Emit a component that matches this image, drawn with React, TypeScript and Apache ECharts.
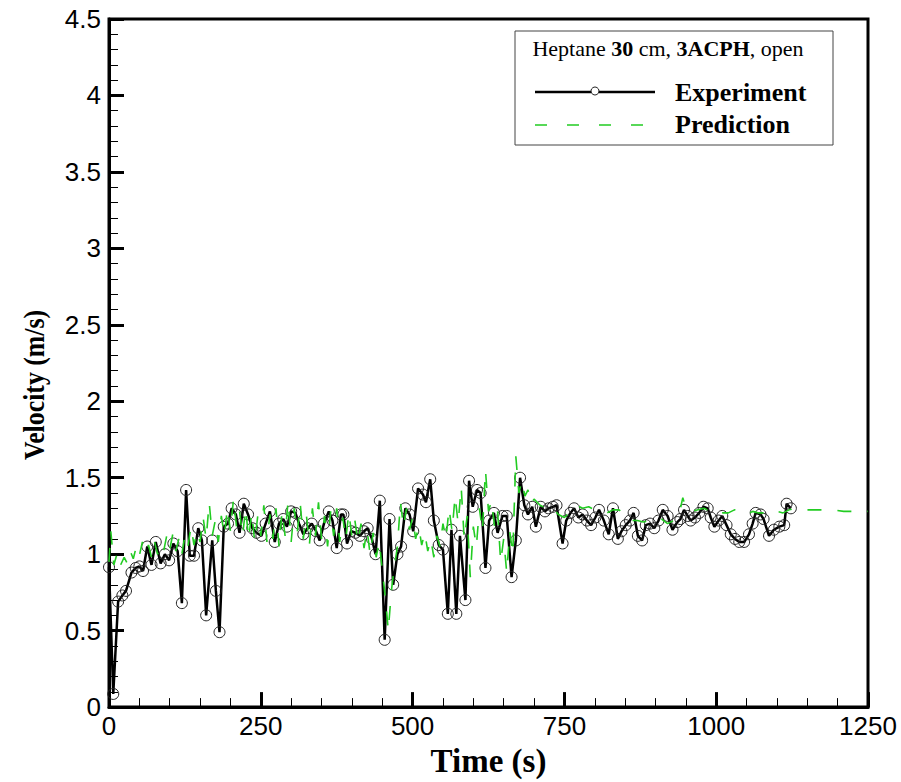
import React, { useEffect, useRef } from "react";
import * as echarts from "echarts";

const xTicks = [0, 250, 500, 750, 1000, 1250];
const yTicks = [0, 0.5, 1, 1.5, 2, 2.5, 3, 3.5, 4, 4.5];

const legendTitleParts = ["Heptane ", "30", " cm, ", "3ACPH", ", open"];
const seriesNames = ["Experiment", "Prediction"];
const yAxisTitle = "Velocity (m/s)";
const xAxisTitle = "Time (s)";

// Experiment (time s, velocity m/s)
const experiment: [number, number][] = [
  [0, 0.915], [7, 0.086], [15, 0.69], [22, 0.73], [28, 0.76], [37, 0.88], [44, 0.91],
  [50, 0.92], [56, 0.89], [63, 1.05], [70, 0.93], [77, 1.08], [85, 0.94], [92, 1.0],
  [99, 0.96], [106, 1.07], [113, 1.02], [120, 0.68], [127, 1.42], [133, 0.99], [140, 0.99],
  [147, 1.17], [153, 1.09], [160, 0.6], [170, 1.09], [176, 0.76], [182, 0.49], [189, 1.18],
  [196, 1.2], [202, 1.3], [209, 1.26], [215, 1.14], [222, 1.33], [229, 1.26], [236, 1.17],
  [243, 1.14], [251, 1.12], [258, 1.2], [265, 1.28], [273, 1.08], [280, 1.2], [287, 1.23],
  [293, 1.18], [300, 1.28], [307, 1.27], [313, 1.2], [320, 1.13], [327, 1.17], [334, 1.2],
  [341, 1.15], [347, 1.09], [354, 1.2], [362, 1.28], [368, 1.22], [375, 1.04], [382, 1.26],
  [386, 1.26], [392, 1.07], [399, 1.15], [406, 1.14], [413, 1.12], [420, 1.15], [426, 1.17],
  [433, 1.1], [439, 1.0], [446, 1.35], [454, 0.44], [462, 1.23], [468, 0.8], [475, 1.0],
  [481, 1.05], [488, 1.3], [495, 1.26], [501, 1.15], [509, 1.43], [517, 1.39], [522, 1.34],
  [529, 1.49], [535, 1.22], [543, 1.06], [550, 1.03], [558, 0.61], [564, 1.16], [572, 0.61],
  [578, 1.12], [587, 0.7], [593, 1.48], [599, 1.31], [606, 1.42], [612, 1.4], [620, 0.91],
  [626, 1.22], [634, 1.27], [640, 1.14], [648, 1.25], [655, 1.25], [663, 0.85], [670, 1.09],
  [677, 1.5], [684, 1.32], [690, 1.26], [697, 1.31], [703, 1.18], [711, 1.31], [718, 1.28],
  [724, 1.3], [731, 1.31], [737, 1.32], [747, 1.07], [753, 1.22], [760, 1.27], [766, 1.3],
  [773, 1.24], [780, 1.26], [787, 1.22], [794, 1.19], [801, 1.24], [807, 1.29], [815, 1.22],
  [823, 1.13], [830, 1.3], [838, 1.1], [844, 1.15], [851, 1.19], [858, 1.22], [864, 1.27],
  [871, 1.12], [878, 1.09], [884, 1.19], [891, 1.2], [898, 1.17], [905, 1.22], [912, 1.29],
  [920, 1.25], [928, 1.16], [936, 1.21], [941, 1.23], [947, 1.29], [953, 1.25], [958, 1.22],
  [965, 1.24], [972, 1.27], [979, 1.31], [986, 1.3], [991, 1.24], [997, 1.18], [1004, 1.22],
  [1010, 1.25], [1017, 1.19], [1024, 1.13], [1031, 1.1], [1038, 1.08], [1046, 1.08],
  [1054, 1.13], [1060, 1.2], [1065, 1.27], [1073, 1.26], [1078, 1.23], [1087, 1.12],
  [1095, 1.16], [1104, 1.18], [1112, 1.19], [1116, 1.33], [1123, 1.3],
];

// Prediction (time s, velocity m/s)
const prediction: [number, number][] = [
  [0, 0.95], [3, 1.15], [8, 0.93], [13, 1.0], [18, 0.92], [25, 0.98], [30, 0.94], [35, 1.02],
  [40, 0.97], [45, 1.05], [50, 0.99], [55, 1.08], [60, 1.01], [65, 1.06], [70, 0.98], [75, 1.08],
  [80, 1.0], [85, 1.06], [90, 1.02], [95, 1.12], [100, 1.03], [105, 1.13], [110, 1.02], [115, 1.1],
  [120, 1.0], [125, 1.12], [130, 1.05], [135, 1.18], [140, 1.06], [145, 1.15], [150, 1.08],
  [155, 1.24], [160, 1.1], [165, 1.34], [170, 1.12], [175, 1.22], [180, 1.08], [185, 1.25],
  [190, 1.12], [195, 1.3], [200, 1.15], [205, 1.36], [210, 1.18], [215, 1.28], [220, 1.12],
  [225, 1.3], [230, 1.1], [235, 1.27], [240, 1.08], [245, 1.25], [250, 1.12], [255, 1.32],
  [260, 1.08], [265, 1.26], [270, 1.1], [275, 1.3], [280, 1.05], [285, 1.28], [290, 1.12],
  [295, 1.35], [300, 1.08], [305, 1.3], [310, 1.14], [315, 1.33], [320, 1.1], [325, 1.26],
  [330, 1.06], [335, 1.3], [340, 1.12], [345, 1.34], [350, 1.1], [355, 1.25], [360, 1.05],
  [365, 1.28], [370, 1.12], [375, 1.3], [380, 1.08], [385, 1.24], [390, 1.1], [395, 1.27],
  [400, 1.12], [405, 1.22], [410, 1.08], [415, 1.2], [420, 1.04], [425, 1.16], [430, 1.0],
  [435, 1.14], [440, 0.98], [445, 1.08], [450, 0.9], [455, 0.72], [460, 0.5], [465, 0.76],
  [470, 0.92], [475, 1.05], [480, 1.34], [485, 1.18], [490, 1.3], [495, 1.16], [500, 1.24],
  [505, 1.1], [510, 1.18], [515, 1.06], [520, 1.14], [525, 1.02], [530, 1.1], [535, 0.98],
  [540, 1.12], [545, 1.05], [550, 1.2], [555, 1.1], [560, 1.3], [565, 1.15], [570, 1.38],
  [575, 1.2], [580, 1.44], [585, 1.1], [590, 1.25], [595, 0.85], [600, 1.18], [605, 1.05],
  [610, 1.3], [615, 1.15], [620, 1.55], [625, 1.28], [630, 1.35], [635, 1.18], [640, 1.28],
  [645, 0.95], [650, 1.1], [655, 0.88], [660, 1.15], [665, 1.0], [670, 1.64], [675, 1.4],
  [680, 1.48], [685, 1.38], [690, 1.42], [695, 1.33], [700, 1.36], [710, 1.32], [720, 1.3],
  [730, 1.31], [740, 1.26], [750, 1.24], [760, 1.28], [770, 1.32], [780, 1.3], [790, 1.31],
  [800, 1.29], [810, 1.28], [820, 1.27], [830, 1.29], [840, 1.29], [850, 1.26], [860, 1.22],
  [870, 1.22], [880, 1.21], [890, 1.22], [900, 1.24], [910, 1.23], [920, 1.2], [930, 1.22],
  [940, 1.28], [945, 1.37], [950, 1.3], [960, 1.28], [970, 1.29], [980, 1.3], [990, 1.28],
  [1000, 1.26], [1010, 1.27], [1020, 1.27], [1030, 1.29], [1040, 1.28], [1050, 1.26],
  [1060, 1.28], [1070, 1.27], [1080, 1.27], [1090, 1.29], [1100, 1.28], [1110, 1.27],
  [1120, 1.29], [1130, 1.3], [1150, 1.29], [1170, 1.29], [1190, 1.29], [1210, 1.28],
  [1230, 1.28], [1250, 1.28],
];

const GREEN = "#22cc22";
const SERIF = "'Liberation Serif', 'Times New Roman', serif";
const SANS = "'Liberation Sans', Arial, sans-serif";

export default function App() {
  const ref = useRef<HTMLDivElement>(null);

  useEffect(() => {
    if (!ref.current) return;
    const chart = echarts.init(ref.current, null, { renderer: "svg" });
    const axisCommon = {
      axisLine: { show: true, lineStyle: { color: "#000", width: 3 } },
      axisTick: { show: true, inside: true, length: 15, lineStyle: { color: "#000", width: 3 } },
      minorTick: { show: true, splitNumber: 5, length: 9, lineStyle: { color: "#000", width: 1 } },
      splitLine: { show: false },
      minorSplitLine: { show: false },
    };
    chart.setOption({
      animation: false,
      backgroundColor: "#fff",
      grid: {
        left: 109,
        right: 33,
        top: 19,
        bottom: 68,
        show: true,
        borderColor: "#000",
        borderWidth: 3,
        backgroundColor: "transparent",
      },
      xAxis: {
        type: "value",
        min: xTicks[0],
        max: xTicks[xTicks.length - 1],
        interval: 250,
        ...axisCommon,
        axisLabel: {
          color: "#000",
          fontFamily: SANS,
          fontSize: 26,
          margin: 6,
          showMinLabel: true,
          showMaxLabel: true,
          formatter: (v: number) => (xTicks.includes(v) ? String(v) : ""),
        },
        name: xAxisTitle,
        nameLocation: "middle",
        nameGap: 33,
        nameTextStyle: { color: "#000", fontFamily: SERIF, fontWeight: "bold", fontSize: 33, verticalAlign: "top" },
      },
      yAxis: {
        type: "value",
        min: yTicks[0],
        max: yTicks[yTicks.length - 1],
        interval: 0.5,
        ...axisCommon,
        axisLabel: {
          color: "#000",
          fontFamily: SANS,
          fontSize: 26,
          margin: 8,
          showMinLabel: true,
          showMaxLabel: true,
          formatter: (v: number) => String(v),
        },
      },
      series: [
        {
          name: seriesNames[0],
          type: "line",
          data: experiment,
          symbol: "circle",
          symbolSize: 11,
          showAllSymbol: true,
          lineStyle: { color: "#000", width: 2.5 },
          itemStyle: { color: "rgba(255,255,255,0)", borderColor: "#222", borderWidth: 1 },
          z: 2,
        },
        {
          name: seriesNames[1],
          type: "line",
          data: prediction,
          symbol: "none",
          lineStyle: { color: GREEN, width: 1.6, type: [14, 16] },
          z: 3,
        },
      ],
      graphic: [
        {
          type: "text",
          x: 34,
          y: 385,
          rotation: Math.PI / 2,
          scaleX: 0.86,
          style: {
            text: yAxisTitle,
            fill: "#000",
            font: `bold 30px ${SERIF}`,
            textAlign: "center",
            textVerticalAlign: "middle",
          },
        },
        {
          type: "rect",
          shape: { x: 515, y: 31, width: 318, height: 114 },
          style: { fill: "#fff", stroke: "#444", lineWidth: 1 },
          z: 10,
        },
        {
          type: "text",
          x: 668,
          y: 48,
          style: {
            text: `{n|${legendTitleParts[0]}}{b|${legendTitleParts[1]}}{n|${legendTitleParts[2]}}{b|${legendTitleParts[3]}}{n|${legendTitleParts[4]}}`,
            fill: "#000",
            font: `22px ${SERIF}`,
            textAlign: "center",
            textVerticalAlign: "middle",
            rich: {
              n: { font: `22px ${SERIF}`, fill: "#000" },
              b: { font: `bold 22px ${SERIF}`, fill: "#000" },
            },
          },
          z: 11,
        },
        {
          type: "line",
          shape: { x1: 535, y1: 92, x2: 655, y2: 92 },
          style: { stroke: "#000", lineWidth: 2.5 },
          z: 11,
        },
        {
          type: "circle",
          shape: { cx: 595, cy: 91, r: 4 },
          style: { fill: "#fff", stroke: "#222", lineWidth: 1 },
          z: 12,
        },
        {
          type: "text",
          x: 675,
          y: 92,
          style: {
            text: seriesNames[0],
            fill: "#000",
            font: `bold 26px ${SERIF}`,
            textAlign: "left",
            textVerticalAlign: "middle",
          },
          z: 11,
        },
        {
          type: "line",
          shape: { x1: 535, y1: 125, x2: 650, y2: 125 },
          style: { stroke: GREEN, lineWidth: 1.6, lineDash: [12, 20] },
          z: 11,
        },
        {
          type: "text",
          x: 675,
          y: 124,
          style: {
            text: seriesNames[1],
            fill: "#000",
            font: `bold 26px ${SERIF}`,
            textAlign: "left",
            textVerticalAlign: "middle",
          },
          z: 11,
        },
      ],
    });
    return () => chart.dispose();
  }, []);

  return (
    <div
      ref={ref}
      style={{ position: "fixed", left: 0, top: 0, width: 901, height: 782, background: "#fff" }}
    />
  );
}
